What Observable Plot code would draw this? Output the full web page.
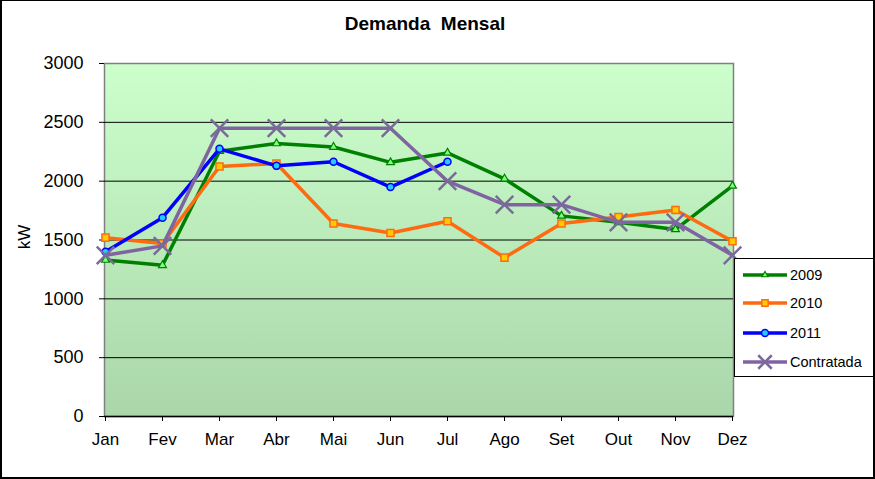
<!DOCTYPE html>
<html>
<head>
<meta charset="utf-8">
<script src="https://cdn.jsdelivr.net/npm/d3@7"></script>
<script src="https://cdn.jsdelivr.net/npm/@observablehq/plot@0.6"></script>
<style>
  html, body { margin: 0; padding: 0; background: #fff; }
  #wrap { position: relative; width: 875px; height: 479px; overflow: hidden; font-family: "Liberation Sans", Arial, sans-serif; }
  #wrap svg.plot { position: absolute; left: 0; top: 0; }
  #title { position: absolute; left: 425px; top: 13px; transform: translateX(-50%); font-weight: bold; font-size: 19px; white-space: pre; color: #000; }
  #ylab { position: absolute; left: 25px; top: 237px; transform: translate(-50%, -50%) rotate(-90deg); font-size: 17px; color: #000; }
  #legend { position: absolute; left: 734px; top: 258px; width: 145px; height: 119px; box-sizing: border-box; border: 1px solid #000; background: #fff; }
  #border { position: absolute; left: 0; top: 0; width: 875px; height: 479px; box-sizing: border-box; border: 2px solid #000; border-top-width: 1px; pointer-events: none; }
</style>
</head>
<body>
<div id="wrap">
  <div id="title">Demanda  Mensal</div>
  <div id="ylab">kW</div>
  <div id="legend"></div>
  <div id="border"></div>
</div>
<script>
// ---- data ----
const months = ["Jan", "Fev", "Mar", "Abr", "Mai", "Jun", "Jul", "Ago", "Set", "Out", "Nov", "Dez"];
const yTicks = [0, 500, 1000, 1500, 2000, 2500, 3000];
const d2009 = [1330, 1285, 2255, 2320, 2290, 2160, 2240, 2020, 1705, 1650, 1590, 1960];
const d2010 = [1520, 1470, 2125, 2150, 1640, 1560, 1660, 1350, 1640, 1695, 1755, 1490];
const d2011 = [1400, 1690, 2275, 2130, 2165, 1950, 2165];
const contratada = [1370, 1450, 2450, 2450, 2450, 2450, 2000, 1800, 1800, 1650, 1650, 1370];
const seriesNames = ["2009", "2010", "2011", "Contratada"];

// ---- styles ----
const styles = {
  "2009": { values: d2009, stroke: "#008000", symbol: "triangle", r: 2.9, fill: "#7dff7d", mstroke: "#008000", msw: 1.2 },
  "2010": { values: d2010, stroke: "#ff6a10", symbol: "square", r: 4, fill: "#ffcc00", mstroke: "#ff6a10", msw: 1.5 },
  "2011": { values: d2011, stroke: "#0000ff", symbol: "circle", r: 3.5, fill: "#22ccff", mstroke: "#0000ff", msw: 1.5 },
  "Contratada": { values: contratada, stroke: "#8064a2", symbol: "times", r: 8, fill: "none", mstroke: "#7a6a9a", msw: 2.5 }
};

const rowsFor = name => styles[name].values.map((v, i) => ({ month: months[i], value: v, series: name }));

const marks = [
  Plot.frame({ fill: "url(#bgGrad)", stroke: "#808080", strokeWidth: 1.5 }),
  Plot.ruleY(yTicks.filter(t => t > 0 && t < 3000), { stroke: "#000", strokeWidth: 1 }),
  Plot.ruleY([0], { stroke: "#000", strokeWidth: 1.5 }),
  Plot.axisY({ ticks: yTicks, tickSize: 5, tickPadding: 16, fontSize: 18, label: null, tickFormat: d => String(d) }),
  Plot.axisX({ tickSize: 5, tickPadding: 11, fontSize: 17, label: null })
];
for (const name of seriesNames) {
  const s = styles[name];
  const data = rowsFor(name);
  marks.push(Plot.line(data, { x: "month", y: "value", stroke: s.stroke, strokeWidth: 3.5, strokeLinejoin: "round" }));
  marks.push(Plot.dot(data, { x: "month", y: "value", symbol: s.symbol, r: s.r, fill: s.fill, stroke: s.mstroke, strokeWidth: s.msw }));
}

const svg = Plot.plot({
  width: 875,
  height: 479,
  marginLeft: 104,
  marginRight: 142,
  marginTop: 63,
  marginBottom: 63,
  style: { background: "transparent", color: "#000", fontFamily: "'Liberation Sans', Arial, sans-serif" },
  x: { type: "point", domain: months, padding: 0 },
  y: { domain: [0, 3000] },
  marks
});
svg.classList.add("plot");

// gradient background for the plot area
const defs = d3.select(svg).insert("defs", ":first-child");
const grad = defs.append("linearGradient").attr("id", "bgGrad").attr("x1", 0).attr("y1", 0).attr("x2", 0).attr("y2", 1);
grad.append("stop").attr("offset", "0").attr("stop-color", "#ccffcc");
grad.append("stop").attr("offset", "1").attr("stop-color", "#aad6aa");

const wrap = document.getElementById("wrap");
wrap.insertBefore(svg, wrap.firstChild);

// ---- legend ----
const legendRows = [16, 44, 74, 103];
const lg = d3.select("#legend").append("svg").attr("width", 143).attr("height", 117);
seriesNames.forEach((name, i) => {
  const s = styles[name];
  const y = legendRows[i];
  lg.append("line").attr("x1", 8).attr("x2", 52).attr("y1", y).attr("y2", y)
    .attr("stroke", s.stroke).attr("stroke-width", 3.5);
  const sym = { triangle: d3.symbolTriangle2, square: d3.symbolSquare2, circle: d3.symbolCircle, times: d3.symbolTimes }[s.symbol];
  const size = Math.PI * s.r * s.r * (s.symbol === "times" ? 0.6 : 1);
  lg.append("path").attr("d", d3.symbol(sym, size)()).attr("transform", `translate(30,${y})`)
    .attr("fill", s.fill).attr("stroke", s.mstroke).attr("stroke-width", s.msw);
  lg.append("text").attr("x", 55).attr("y", y).attr("dy", "0.35em")
    .attr("font-size", 14.5).attr("font-family", "'Liberation Sans', Arial, sans-serif").text(name);
});
</script>
</body>
</html>
